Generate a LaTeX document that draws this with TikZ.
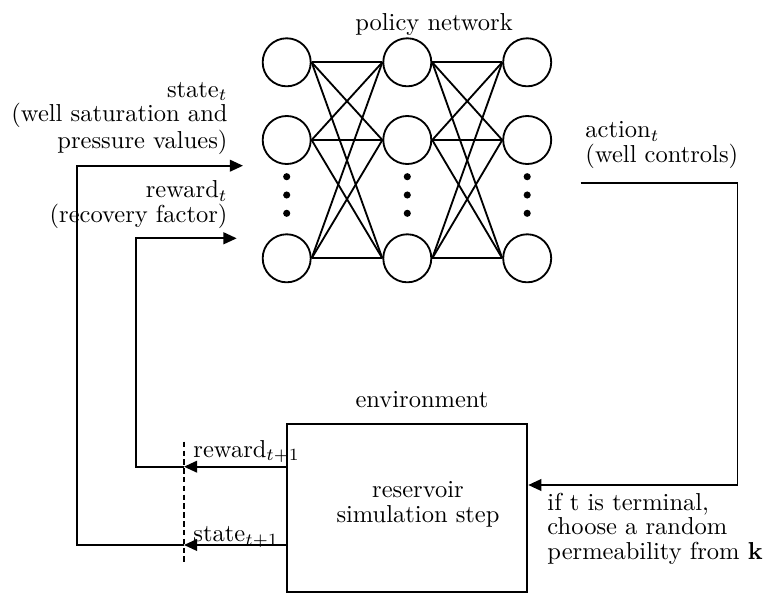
\documentclass[tikz,border=0pt]{standalone}
\usetikzlibrary{arrows.meta}
\begin{document}
\begin{tikzpicture}[x=0.408pt,y=-0.408pt,
  lw/.style={line width=0.75pt},
  neuron/.style={circle,draw,lw,minimum size=19.6pt,inner sep=0pt},
  ndot/.style={circle,fill,inner sep=0pt,minimum size=2.9pt},
  link/.style={lw},
  arr/.style={lw,-{Triangle[length=5.4pt,width=4.8pt]}},
  txt/.style={inner sep=0pt,font=\fontsize{10}{9.8}\selectfont}]
\useasboundingbox (0,0) rectangle (771,594);

% neurons
\foreach \c/\x in {1/286.7,2/407.3,3/527.2}{
  \foreach \r/\y in {1/62.3,2/140,3/258.3}{
    \node[neuron] (n\c\r) at (\x,\y) {};
  }
  \node[ndot] (d\c a) at (\x,176.7) {};
  \node[ndot] (d\c b) at (\x,195) {};
  \node[ndot] (d\c c) at (\x,213.3) {};
}
\foreach \i/\j in {1/2,2/3}{
  \foreach \a in {1,2,3}{
    \foreach \b in {1,2,3}{
      \draw[link] (n\i\a.east) -- (n\j\b.west);
    }
  }
}
\node[txt,anchor=base] (pn) at (434,30) {policy network};

% environment
\node[draw,lw,minimum width=98.2pt,minimum height=68.3pt,inner sep=0pt] (env) at (407,508) {};
\node[txt,anchor=base] (envlab) at (422,407) {environment};
\node[txt,align=center,anchor=base] (envtxt) at (418,522) {reservoir\\simulation step};

% texts
\node[txt,align=right,anchor=base east] (st) at (228,148) {state$_t$\\(well saturation and\\pressure values)};
\node[txt,align=right,anchor=base east] (rt) at (228,222) {reward$_t$\\(recovery factor)};
\node[txt,align=left,anchor=base west] (at) at (585,162) {action$_t$\\(well controls)};
\node[txt,align=left,anchor=base west] (term) at (547,559) {if t is terminal,\\choose a random\\permeability from $\mathbf{k}$};
\node[txt,anchor=base west] (r1) at (193,457) {reward$_{t+1}$};
\node[txt,anchor=base west] (s1) at (193,541.7) {state$_{t+1}$};

% coordinates
\coordinate (stip) at (243,165.7);
\coordinate (rtip) at (236.7,238.3);
\coordinate (a0) at (580.7,183.3);
\coordinate (a1) at (737.5,485);
\coordinate (rd) at (184,466.7);
\coordinate (sd) at (184,545);
\coordinate (dtop) at (184,441.7);
\coordinate (dbot) at (184,563.3);

% connectors
\draw[lw] (a0) -| (a1);
\draw[arr] (a1) -- (a1 -| env.east);
\draw[arr] (rd -| env.west) -- (rd);
\draw[arr] (sd -| env.west) -- (sd);
\draw[arr] (rd) -- (136,466.7) -- (136,238.3) -- (rtip);
\draw[arr] (sd) -- (76.7,545) -- (76.7,165.7) -- (stip);
\draw[lw,dash pattern=on 2.2pt off 1.4pt] (dtop) -- (dbot);
\end{tikzpicture}
\end{document}
